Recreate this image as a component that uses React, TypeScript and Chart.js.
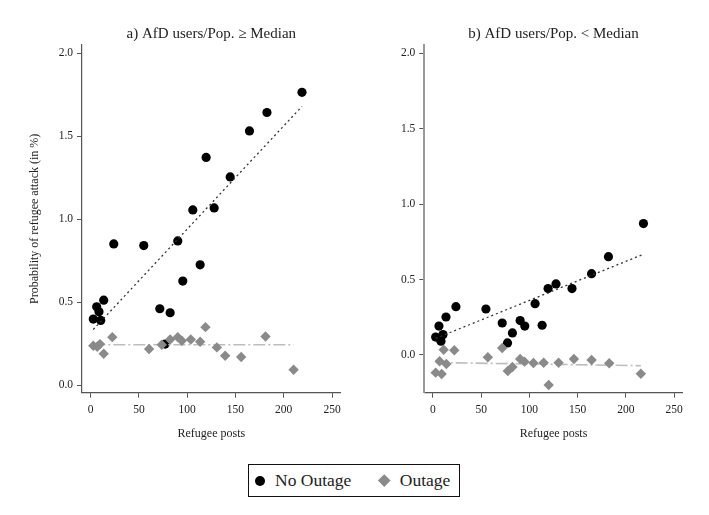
import React, { useEffect, useRef } from "react";
import { Chart, registerables } from "chart.js";

Chart.register(...registerables);

// Binned refugee-post counts and attack probabilities, panel a (AfD users/Pop. >= median)
const postsNoOutageA = [2.7, 6.2, 8.6, 10.4, 13.5, 23.9, 55.0, 71.6, 77.1, 82.3, 90.2, 95.4, 105.8, 113.4, 119.6, 127.9, 144.5, 164.5, 182.6, 218.9];
const probNoOutageA = [0.398, 0.472, 0.442, 0.39, 0.512, 0.851, 0.841, 0.46, 0.247, 0.436, 0.869, 0.627, 1.056, 0.725, 1.372, 1.068, 1.255, 1.532, 1.643, 1.765];
const postsOutageA = [2.7, 6.8, 9.6, 13.5, 22.4, 60.5, 73.6, 82.3, 90.2, 94.4, 103.7, 113.4, 118.9, 130.7, 139.3, 155.9, 181.1, 210.2];
const probOutageA = [0.237, 0.231, 0.247, 0.189, 0.289, 0.217, 0.243, 0.275, 0.289, 0.267, 0.275, 0.261, 0.349, 0.227, 0.177, 0.169, 0.293, 0.092];
const fitNoOutageA = { x: [2.7, 218.9], y: [0.335, 1.68] };
const fitOutageA = { x: [2.7, 210.2], y: [0.243, 0.243] };

// Panel b (AfD users/Pop. < median)
const postsNoOutageB = [2.8, 6.2, 8.3, 10.4, 13.5, 23.8, 54.9, 71.8, 77.3, 82.4, 90.4, 95.2, 105.9, 113.2, 119.4, 127.6, 144.2, 164.5, 182.0, 218.3];
const probNoOutageB = [0.119, 0.192, 0.091, 0.135, 0.252, 0.32, 0.305, 0.212, 0.08, 0.146, 0.228, 0.192, 0.34, 0.197, 0.44, 0.471, 0.44, 0.539, 0.652, 0.871];
const postsOutageB = [2.8, 6.9, 9.0, 11.1, 13.9, 22.1, 56.9, 71.8, 77.6, 82.4, 90.4, 94.9, 104.2, 114.8, 120.0, 130.3, 146.2, 164.5, 182.8, 215.6];
const probOutageB = [-0.117, -0.042, -0.126, 0.035, -0.06, 0.031, -0.015, 0.046, -0.106, -0.08, -0.027, -0.044, -0.053, -0.051, -0.199, -0.051, -0.027, -0.033, -0.055, -0.124];
const fitNoOutageB = { x: [2.8, 218.3], y: [0.11, 0.668] };
const fitOutageB = { x: [2.8, 215.6], y: [-0.05, -0.071] };

const xTickValues = [0, 50, 100, 150, 200, 250];
const yTickValues = [0, 0.5, 1, 1.5, 2];

const SERIF = "'Liberation Serif', 'DejaVu Serif', serif";
const TEXT = "#222";

type Panel = {
  title: string;
  yTitle: string | null;
  yMin: number;
  yMax: number;
  yAxisWidth: number;
  padRight: number;
  yBorderColor: string;
  yBorderWidth: number;
  noOutage: { x: number[]; y: number[] };
  outage: { x: number[]; y: number[] };
  fitNo: { x: number[]; y: number[] };
  fitOut: { x: number[]; y: number[] };
};

const zip = (xs: number[], ys: number[]) => xs.map((x, i) => ({ x, y: ys[i] }));

function ScatterPanel({ panel, left, width }: { panel: Panel; left: number; width: number }) {
  const ref = useRef<HTMLCanvasElement | null>(null);

  useEffect(() => {
    if (!ref.current) return;
    const chart = new Chart(ref.current, {
      type: "scatter",
      data: {
        datasets: [
          {
            label: "Outage",
            data: zip(panel.outage.x, panel.outage.y),
            pointStyle: "rectRot",
            pointRadius: 5.2,
            backgroundColor: "#8a8a8a",
            borderWidth: 0,
            order: 0,
          },
          {
            type: "line",
            label: "Outage fit",
            data: zip(panel.fitOut.x, panel.fitOut.y),
            borderColor: "#bdbdbd",
            borderWidth: 1.6,
            borderDash: [12, 3, 2, 3],
            pointRadius: 0,
            fill: false,
            order: 1,
          },
          {
            type: "line",
            label: "No Outage fit",
            data: zip(panel.fitNo.x, panel.fitNo.y),
            borderColor: "#333",
            borderWidth: 1.3,
            borderDash: [2, 3],
            pointRadius: 0,
            fill: false,
            order: 1,
          },
          {
            label: "No Outage",
            data: zip(panel.noOutage.x, panel.noOutage.y),
            pointStyle: "circle",
            pointRadius: 4.6,
            backgroundColor: "#000",
            borderWidth: 0,
            order: 2,
          },
        ],
      },
      options: {
        animation: false,
        responsive: false,
        maintainAspectRatio: false,
        layout: { padding: { left: 0, right: panel.padRight, top: 0, bottom: 0 } },
        plugins: {
          legend: { display: false },
          tooltip: { enabled: false },
          title: {
            display: true,
            text: panel.title,
            color: TEXT,
            fullSize: false,
            font: { family: SERIF, size: 15, weight: "normal" },
            padding: { top: 25.5, bottom: 1.5 },
          },
        },
        scales: {
          x: {
            type: "linear",
            min: -9,
            max: 259,
            afterBuildTicks: (s: any) => {
              s.ticks = xTickValues.map((v) => ({ value: v }));
            },
            afterFit: (s: any) => {
              s.height = 52.3;
            },
            ticks: {
              color: TEXT,
              font: { family: SERIF, size: 11.5 },
              padding: 5.5,
              maxRotation: 0,
              autoSkip: false,
            },
            grid: { drawOnChartArea: false, drawTicks: true, tickLength: 5, tickColor: "#555", tickWidth: 1 },
            border: { color: "#555", width: 1.2 },
            title: {
              display: true,
              text: "Refugee posts",
              color: TEXT,
              font: { family: SERIF, size: 12 },
              padding: { top: 0, bottom: 3.5 },
            },
          },
          y: {
            type: "linear",
            min: panel.yMin,
            max: panel.yMax,
            afterBuildTicks: (s: any) => {
              s.ticks = yTickValues.map((v) => ({ value: v }));
            },
            afterFit: (s: any) => {
              s.width = panel.yAxisWidth;
            },
            ticks: {
              color: TEXT,
              font: { family: SERIF, size: 11.5 },
              padding: 4,
              autoSkip: false,
              callback: (v: any) => Number(v).toFixed(1),
            },
            grid: { drawOnChartArea: false, drawTicks: true, tickLength: 5, tickColor: "#555", tickWidth: 1 },
            border: { color: panel.yBorderColor, width: panel.yBorderWidth },
            title: {
              display: panel.yTitle !== null,
              text: panel.yTitle ?? "",
              color: TEXT,
              font: { family: SERIF, size: 12 },
              padding: { top: 27.8, bottom: 0 },
            },
          },
        },
      } as any,
    });
    return () => chart.destroy();
  }, [panel]);

  return (
    <canvas
      ref={ref}
      width={width}
      height={445}
      style={{ position: "absolute", left, top: 0, width, height: 445 }}
    />
  );
}

const panelA: Panel = {
  title: "a) AfD users/Pop. \u2265 Median",
  yTitle: "Probability of refugee attack (in %)",
  yMin: -0.046,
  yMax: 2.05,
  yAxisWidth: 82,
  padRight: 14.3,
  yBorderColor: "#555",
  yBorderWidth: 1.2,
  noOutage: { x: postsNoOutageA, y: probNoOutageA },
  outage: { x: postsOutageA, y: probOutageA },
  fitNo: fitNoOutageA,
  fitOut: fitOutageA,
};

const panelB: Panel = {
  title: "b) AfD users/Pop. < Median",
  yTitle: null,
  yMin: -0.25,
  yMax: 2.055,
  yAxisWidth: 69.3,
  padRight: 26.3,
  yBorderColor: "#9a9a9a",
  yBorderWidth: 2,
  noOutage: { x: postsNoOutageB, y: probNoOutageB },
  outage: { x: postsOutageB, y: probOutageB },
  fitNo: fitNoOutageB,
  fitOut: fitOutageB,
};

export default function App() {
  return (
    <div
      style={{
        position: "absolute",
        left: 0,
        top: 0,
        width: 709,
        height: 515,
        background: "#fff",
        overflow: "hidden",
      }}
    >
      <ScatterPanel panel={panelA} left={0} width={355} />
      <ScatterPanel panel={panelB} left={355} width={354} />
      <div
        style={{
          position: "absolute",
          left: 248,
          top: 464,
          width: 210,
          height: 31,
          border: "1px solid #111",
          display: "flex",
          alignItems: "center",
          fontFamily: SERIF,
          fontSize: 17.5,
          color: TEXT,
          boxSizing: "content-box",
        }}
      >
        <span
          style={{
            display: "inline-block",
            width: 10,
            height: 10,
            borderRadius: "50%",
            background: "#000",
            marginLeft: 6,
          }}
        />
        <span style={{ marginLeft: 10, whiteSpace: "nowrap" }}>No Outage</span>
        <span
          style={{
            display: "inline-block",
            width: 8.5,
            height: 8.5,
            background: "#8a8a8a",
            transform: "rotate(45deg)",
            marginLeft: 29,
          }}
        />
        <span style={{ marginLeft: 11, whiteSpace: "nowrap" }}>Outage</span>
      </div>
    </div>
  );
}
